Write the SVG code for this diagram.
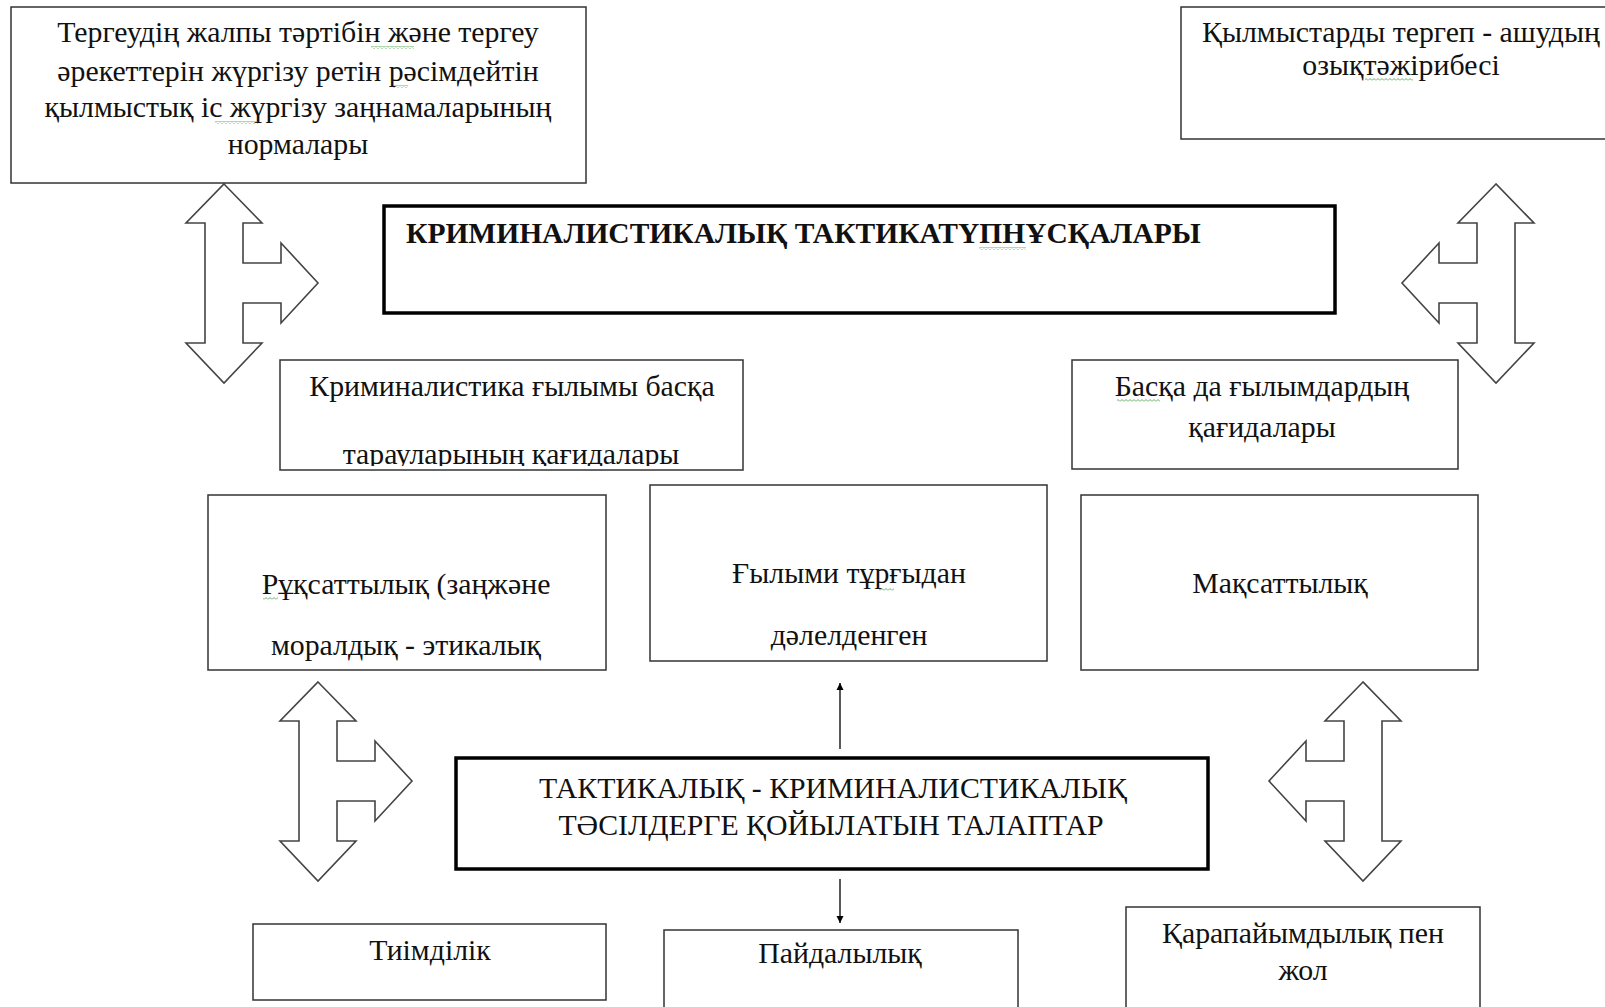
<svg xmlns="http://www.w3.org/2000/svg" xmlns:xlink="http://www.w3.org/1999/xlink" width="1605" height="1007" viewBox="0 0 1605 1007">
<style>
.box{fill:#fff;stroke:#333;stroke-width:1.5}
.thick{fill:#fff;stroke:#000;stroke-width:3.5}
.t{font-family:"Liberation Serif","Times New Roman",serif;font-size:29.8px;fill:#111;text-anchor:middle}
.b{font-weight:bold;text-anchor:start;font-size:29.5px}
.ha{fill:#fff;stroke:#444;stroke-width:1.6;stroke-linejoin:miter}
.ln{stroke:#000;stroke-width:1.3;fill:none}
.sp{fill:url(#wave)}
</style>
<defs>
<path id="harrow" d="M0,0 L38,39 L19,39 L19,79 L57,79 L57,59 L94,99 L57,139 L57,119 L19,119 L19,159 L38,159 L0,199 L-38,159 L-19,159 L-19,39 L-38,39 Z"/>
<marker id="ah" viewBox="0 0 10 10" refX="10" refY="5" markerWidth="7" markerHeight="9" markerUnits="userSpaceOnUse" orient="auto"><path d="M0,0 L10,5 L0,10 Z" fill="#000"/></marker>
<pattern id="wave" width="4" height="3" patternUnits="userSpaceOnUse"><path d="M0,2.5 L2,0.5 L4,2.5" fill="none" stroke="#3a9a3a" stroke-width="0.8"/></pattern>
<clipPath id="c1"><rect x="280" y="361" width="462" height="105"/></clipPath>
</defs>
<rect width="1605" height="1007" fill="#fff"/>

<g id="connectors">
<use xlink:href="#harrow" class="ha" transform="translate(224,184)"/>
<use xlink:href="#harrow" class="ha" transform="translate(1496,184) scale(-1,1)"/>
<use xlink:href="#harrow" class="ha" transform="translate(318,682)"/>
<use xlink:href="#harrow" class="ha" transform="translate(1363,682) scale(-1,1)"/>
<line class="ln" x1="840" y1="749" x2="840" y2="683" marker-end="url(#ah)"/>
<line class="ln" x1="840" y1="879" x2="840" y2="923" marker-end="url(#ah)"/>
</g>

<g id="n-norms">
<rect class="box" x="11" y="7" width="575" height="176"/>
<text class="t" x="298" y="42">Тергеудің жалпы тәртібін және тергеу</text>
<text class="t" x="298" y="81">әрекеттерін жүргізу ретін рәсімдейтін</text>
<text class="t" x="298" y="117">қылмыстық іс жүргізу заңнамаларының</text>
<text class="t" x="298" y="154">нормалары</text>
<rect class="sp" x="371" y="46" width="43" height="3"/>
<rect class="sp" x="393" y="85" width="15" height="3"/>
<rect class="sp" x="215" y="121" width="43" height="3"/>
</g>

<g id="n-practice">
<rect class="box" x="1181" y="7" width="440" height="132"/>
<text class="t" x="1401" y="42">Қылмыстарды тергеп - ашудың</text>
<text class="t" x="1401" y="75">озықтәжірибесі</text>
<rect class="sp" x="1365" y="78" width="48" height="3"/>
</g>

<g id="n-title">
<rect class="thick" x="384" y="206" width="951" height="107"/>
<text class="t b" x="406" y="243">КРИМИНАЛИСТИКАЛЫҚ ТАКТИКАТҮПНҰСҚАЛАРЫ</text>
<rect class="sp" x="979" y="247" width="47" height="3"/>
</g>

<g id="n-branches">
<rect class="box" x="280" y="360" width="463" height="110"/>
<text class="t" x="512" y="396">Криминалистика ғылымы басқа</text>
<text class="t" x="511" y="464" clip-path="url(#c1)">тарауларының қағидалары</text>
</g>

<g id="n-other">
<rect class="box" x="1072" y="360" width="386" height="109"/>
<text class="t" x="1262" y="396">Басқа да ғылымдардың</text>
<text class="t" x="1262" y="437">қағидалары</text>
<rect class="sp" x="1117" y="399" width="43" height="3"/>
</g>

<g id="n-permit">
<rect class="box" x="208" y="495" width="398" height="175"/>
<text class="t" x="406" y="594">Рұқсаттылық (заңжәне</text>
<text class="t" x="406" y="655">моралдық - этикалық</text>
<rect class="sp" x="263" y="597" width="15" height="3"/>
</g>

<g id="n-science">
<rect class="box" x="650" y="485" width="397" height="176"/>
<text class="t" x="849" y="583">Ғылыми тұрғыдан</text>
<text class="t" x="849" y="645">дәлелденген</text>
<rect class="sp" x="879" y="588" width="15" height="3"/>
</g>

<g id="n-purpose">
<rect class="box" x="1081" y="495" width="397" height="175"/>
<text class="t" x="1280" y="593">Мақсаттылық</text>
</g>

<g id="n-req">
<rect class="thick" x="456" y="758" width="752" height="111"/>
<text class="t" x="833" y="798">ТАКТИКАЛЫҚ - КРИМИНАЛИСТИКАЛЫҚ</text>
<text class="t" x="831" y="835">ТӘСІЛДЕРГЕ ҚОЙЫЛАТЫН ТАЛАПТАР</text>
</g>

<g id="n-effect">
<rect class="box" x="253" y="924" width="353" height="76"/>
<text class="t" x="430" y="960">Тиімділік</text>
</g>

<g id="n-useful">
<rect class="box" x="664" y="930" width="354" height="90"/>
<text class="t" x="840" y="963">Пайдалылық</text>
</g>

<g id="n-simple">
<rect class="box" x="1126" y="907" width="354" height="120"/>
<text class="t" x="1303" y="943">Қарапайымдылық пен</text>
<text class="t" x="1303" y="980">жол</text>
</g>
</svg>
